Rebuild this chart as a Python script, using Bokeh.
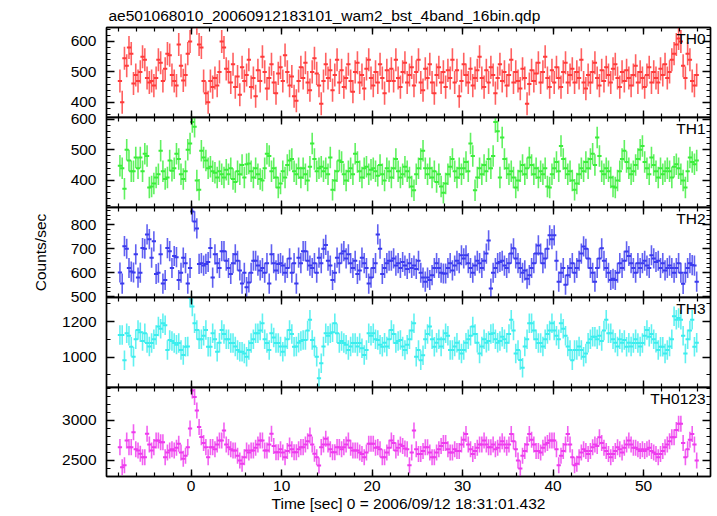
import numpy as np
from bokeh.plotting import figure
from bokeh.layouts import column
from bokeh.models import Range1d, LinearAxis, SingleIntervalTicker, ColumnDataSource, Label
from bokeh.embed import file_html
from bokeh.resources import INLINE

TITLE = "ae501068010_20060912183101_wam2_bst_4band_16bin.qdp"
X_LABEL = "Time [sec] 0 = 2006/09/12 18:31:01.432"
Y_LABEL = "Counts/sec"
bands = ["TH0", "TH1", "TH2", "TH3", "TH0123"]

# time bins: centre of first bin and bin width (sec)
first_bin = -7.875
bin_width = 0.25

th0 = [
    470, 400, 545, 520, 580, 560, 462, 490,
    470, 500, 550, 540, 480, 465, 470, 455,
    480, 540, 530, 470, 510, 560, 555, 490,
    470, 455, 590, 520, 472, 490, 560, 600,
    680, 690, 660, 590, 580, 470, 430, 400,
    470, 450, 480, 455, 500, 600, 580, 510,
    500, 465, 525, 450, 485, 425, 515, 470,
    490, 540, 450, 480, 420, 505, 470, 550,
    500, 445, 480, 525, 465, 430, 495, 515,
    470, 555, 500, 455, 485, 420, 405, 470,
    515, 480, 530, 465, 440, 500, 545, 495,
    455, 395, 470, 525, 480, 505, 440, 490,
    540, 465, 505, 450, 480, 525, 470, 435,
    500, 530, 465, 490, 445, 510, 540, 480,
    455, 500, 465, 525, 480, 430, 505, 470,
    510, 470, 540, 480, 450, 500, 530, 465,
    490, 515, 455, 500, 540, 465, 440, 510,
    480, 525, 465, 430, 490, 515, 465, 500,
    450, 505, 480, 540, 465, 505, 420, 470,
    525, 490, 465, 510, 455, 480, 505, 550,
    480, 450, 505, 465, 515, 490, 430, 480,
    525, 470, 500, 455, 490, 540, 465, 500,
    470, 445, 510, 480, 395, 460, 505, 470,
    495, 530, 465, 500, 550, 480, 450, 505,
    465, 515, 480, 450, 500, 530, 465, 490,
    510, 465, 500, 480, 540, 465, 445, 490,
    465, 500, 530, 480, 455, 505, 470, 515,
    490, 465, 510, 525, 480, 450, 500, 470,
    505, 480, 455, 490, 520, 465, 500, 480,
    450, 490, 515, 465, 500, 480, 465, 510,
    490, 525, 480, 500, 540, 560, 590, 610,
    600, 520, 480, 560, 540, 470, 455, 490,
]

th1 = [
    448, 440, 373, 500, 465, 430, 430, 475,
    440, 475, 430, 487, 480, 377, 380, 390,
    410, 420, 497, 430, 405, 410, 465, 432,
    440, 487, 470, 420, 405, 430, 500, 520,
    590, 575, 400, 370, 497, 475, 465, 440,
    445, 430, 425, 410, 430, 420, 410, 435,
    420, 440, 405, 395, 430, 420, 450, 410,
    453, 455, 430, 410, 440, 420, 405, 400,
    440, 487, 480, 430, 440, 410, 377, 390,
    430, 410, 450, 465, 470, 430, 420, 440,
    410, 440, 420, 400, 445, 520, 470, 430,
    440, 445, 430, 440, 420, 475, 370, 400,
    430, 465, 460, 420, 400, 430, 440, 420,
    487, 460, 430, 410, 440, 445, 420, 435,
    440, 430, 415, 450, 420, 400, 440, 430,
    410, 440, 470, 430, 410, 420, 445, 430,
    410, 380, 368, 420, 440, 470, 497, 440,
    420, 440, 410, 430, 395, 420, 380, 360,
    390, 420, 445, 470, 430, 410, 440, 420,
    440, 460, 430, 520, 480, 368, 410, 440,
    420, 450, 430, 470, 440, 480, 590, 560,
    410, 540, 470, 440, 420, 430, 410, 377,
    400, 430, 450, 420, 440, 475, 450, 420,
    440, 410, 430, 420, 440, 380, 377, 420,
    440, 460, 430, 512, 470, 440, 420, 430,
    400, 370, 390, 420, 440, 430, 460, 440,
    470, 487, 450, 540, 480, 430, 420, 440,
    430, 410, 380, 377, 400, 430, 470, 497,
    460, 440, 420, 430, 450, 470, 500, 512,
    460, 440, 420, 475, 450, 430, 410, 440,
    420, 430, 440, 430, 410, 445, 453, 440,
    420, 400, 377, 430, 475, 460, 453, 465,
]

th2 = [
    601, 555, 711, 700, 620, 605, 601, 677,
    580, 600, 703, 700, 760, 740, 663, 731,
    595, 600, 677, 555, 570, 703, 690, 620,
    670, 665, 570, 600, 663, 640, 555, 620,
    855, 814, 785, 637, 640, 630, 637, 645,
    703, 580, 677, 640, 620, 690, 690, 650,
    620, 595, 640, 677, 650, 610, 555, 600,
    540, 560, 600, 650, 650, 630, 610, 620,
    600, 640, 555, 677, 640, 610, 637, 640,
    630, 600, 620, 660, 600, 640, 555, 663,
    640, 690, 690, 650, 630, 620, 640, 600,
    663, 640, 700, 716, 650, 630, 570, 600,
    663, 640, 680, 690, 660, 677, 640, 620,
    650, 595, 610, 663, 640, 620, 555, 580,
    620, 640, 760, 700, 595, 620, 640, 650,
    650, 660, 630, 640, 620, 645, 630, 616,
    640, 620, 630, 616, 650, 600, 580, 563,
    580, 570, 590, 620, 640, 620, 600, 597,
    597, 620, 640, 610, 630, 650, 640, 673,
    660, 673, 640, 620, 600, 630, 650, 640,
    620, 650, 680, 735, 534, 600, 620, 640,
    645, 650, 630, 620, 640, 680, 702, 660,
    640, 620, 600, 610, 575, 590, 620, 640,
    680, 714, 680, 640, 660, 700, 756, 740,
    756, 650, 563, 600, 620, 550, 590, 620,
    640, 600, 620, 650, 680, 710, 700, 660,
    620, 600, 563, 620, 660, 702, 650, 620,
    600, 570, 575, 570, 600, 640, 620, 650,
    689, 670, 640, 620, 600, 640, 620, 640,
    650, 630, 620, 673, 660, 645, 650, 620,
    640, 610, 620, 630, 620, 600, 620, 640,
    600, 554, 600, 620, 640, 632, 630, 563,
]

th3 = [
    1124, 1124, 982, 1134, 1120, 1058, 1001, 1100,
    1153, 1140, 1090, 1134, 1079, 1060, 1079, 1100,
    1124, 1172, 1160, 1190, 1180, 1040, 1096, 1090,
    1079, 1070, 1079, 1040, 1011, 1058, 1060, 1335,
    1285, 1190, 1153, 1100, 1100, 1120, 1153, 1058,
    1058, 1134, 1100, 1030, 1080, 1153, 1130, 1100,
    1100, 1079, 1079, 1060, 1040, 1030, 1030, 1020,
    1001, 1040, 1079, 1100, 1134, 1134, 1150, 1190,
    1100, 1079, 1040, 1134, 1110, 1079, 1079, 1060,
    1030, 1060, 1100, 1153, 1130, 1058, 1060, 1080,
    1090, 1096, 1096, 1150, 1210, 1096, 1060, 1001,
    880, 965, 1060, 1134, 1120, 1134, 1140, 1190,
    1134, 1079, 1090, 1079, 1070, 1040, 1060, 1079,
    1079, 1060, 1079, 1050, 1011, 1040, 1134, 1120,
    1134, 1100, 1096, 1070, 1058, 1080, 1060, 1100,
    1153, 1130, 1079, 1090, 1096, 1060, 1040, 1070,
    1100, 1150, 1190, 1001, 1040, 982, 1010, 1100,
    1130, 1172, 1100, 1058, 1080, 1100, 1060, 1100,
    1134, 1120, 1040, 1040, 1060, 1080, 1040, 1020,
    1040, 1080, 1100, 1120, 1172, 1130, 1080, 1020,
    1060, 1100, 1080, 1090, 1130, 1134, 1100, 1080,
    1090, 1115, 1100, 1080, 1130, 1210, 1150, 1020,
    1040, 983, 940, 1060, 1100, 1190, 1190, 1150,
    1100, 1079, 1079, 1060, 1100, 1130, 1150, 1190,
    1150, 1120, 1100, 1190, 1160, 1120, 1060, 1040,
    982, 1040, 1040, 1060, 1040, 1001, 1020, 1080,
    1100, 1115, 1115, 1100, 1120, 1090, 1150, 1210,
    1134, 1134, 1100, 1080, 1060, 1100, 1080, 1096,
    1058, 1080, 1060, 1079, 1100, 1079, 1060, 1079,
    1120, 1153, 1115, 1130, 1100, 1080, 1040, 1058,
    1058, 1020, 1040, 1060, 1100, 1230, 1210, 1220,
    1210, 1120, 1020, 1100, 1150, 1210, 1058, 1080,
]

th0123 = [
    2667, 2417, 2440, 2750, 2667, 2667, 2854, 2640,
    2625, 2583, 2542, 2542, 2833, 2700, 2625, 2667,
    2750, 2750, 2729, 2729, 2542, 2600, 2625, 2640,
    2625, 2660, 2708, 2600, 2521, 2560, 2667, 2900,
    3375, 3292, 3125, 2917, 2792, 2720, 2667, 2542,
    2667, 2667, 2640, 2700, 2750, 2750, 2875, 2700,
    2667, 2640, 2625, 2625, 2560, 2500, 2458, 2540,
    2625, 2600, 2625, 2625, 2660, 2700, 2750, 2750,
    2625, 2625, 2700, 2833, 2680, 2604, 2604, 2640,
    2600, 2542, 2620, 2688, 2640, 2604, 2604, 2640,
    2667, 2667, 2700, 2740, 2813, 2700, 2583, 2540,
    2438, 2667, 2700, 2771, 2700, 2640, 2604, 2604,
    2667, 2667, 2640, 2667, 2700, 2750, 2660, 2625,
    2625, 2625, 2600, 2580, 2542, 2600, 2708, 2708,
    2708, 2660, 2667, 2640, 2542, 2542, 2600, 2660,
    2750, 2720, 2625, 2660, 2700, 2680, 2650, 2640,
    2440, 2600, 2875, 2640, 2580, 2580, 2620, 2665,
    2665, 2600, 2540, 2540, 2600, 2640, 2680, 2720,
    2720, 2640, 2600, 2600, 2640, 2620, 2620, 2700,
    2760, 2830, 2700, 2640, 2580, 2620, 2660, 2700,
    2700, 2750, 2700, 2665, 2665, 2700, 2640, 2660,
    2700, 2740, 2700, 2660, 2700, 2830, 2740, 2640,
    2500, 2400, 2560, 2620, 2700, 2830, 2760, 2700,
    2620, 2620, 2600, 2660, 2700, 2720, 2750, 2750,
    2750, 2640, 2440, 2560, 2620, 2700, 2830, 2700,
    2540, 2440, 2460, 2540, 2600, 2640, 2620, 2580,
    2620, 2665, 2700, 2680, 2790, 2720, 2660, 2620,
    2580, 2540, 2580, 2620, 2665, 2640, 2600, 2660,
    2700, 2750, 2700, 2660, 2660, 2640, 2620, 2640,
    2620, 2640, 2660, 2620, 2600, 2580, 2540, 2580,
    2620, 2665, 2700, 2740, 2790, 2790, 2880, 2960,
    2960, 2720, 2540, 2640, 2760, 2830, 2700, 2500,
]

series = [th0, th1, th2, th3, th0123]
errors = [38, 35, 42, 55, 100]          # 1-sigma error per bin (counts/sec)
y_ranges = [(350, 646), (312, 605), (497, 872), (828, 1336), (2300, 3412)]
y_steps = [100, 100, 100, 200, 500]
y_minor = [5, 5, 5, 2, 5]
x_limits = (-9.36, 57.4)

colors = ["#ff3a3a", "#3aee3a", "#3a3aee", "#3aeeee", "#ee3aee"]
frame_heights = [90, 90, 90, 90, 89]
FONT = "Liberation Sans"
FS = "15.5px"
OVER = 10   # transparent overlap border between stacked panels

x_range = Range1d(*x_limits)


def style_axis(ax, show_labels, major_in, minor_in):
    ax.major_tick_in = major_in
    ax.major_tick_out = 0
    ax.minor_tick_in = minor_in
    ax.minor_tick_out = 0
    ax.axis_line_color = "black"
    ax.axis_line_width = 1.4
    ax.major_tick_line_color = "black"
    ax.major_tick_line_width = 1.4
    ax.minor_tick_line_color = "black"
    ax.minor_tick_line_width = 1.2
    ax.major_label_text_font = FONT
    ax.axis_label_text_font = FONT
    ax.axis_label_text_font_style = "normal"
    ax.axis_label_text_color = "black"
    ax.axis_label_text_font_size = FS
    if show_labels:
        ax.major_label_text_font_size = FS
        ax.major_label_text_color = "black"
    else:
        ax.major_label_text_font_size = "1px"
        ax.major_label_text_color = None
        ax.major_label_standoff = 0


figs = []
n = len(bands)
for i, (name, vals, err, yr, step, nminor, col) in enumerate(
        zip(bands, series, errors, y_ranges, y_steps, y_minor, colors)):
    first = i == 0
    last = i == n - 1
    p = figure(x_range=x_range, y_range=Range1d(*yr),
               frame_width=604, frame_height=frame_heights[i],
               output_backend="svg", toolbar_location=None,
               x_axis_location=None, y_axis_location=None,
               min_border_left=106, min_border_right=2,
               min_border_top=27 if first else OVER,
               min_border_bottom=0 if last else OVER,
               title=TITLE if first else None)
    if not first:
        p.margin = (-2 * OVER, 0, 0, 0)
    p.xgrid.visible = False
    p.ygrid.visible = False
    p.outline_line_color = "black"
    p.outline_line_width = 1.4
    p.background_fill_color = "white"
    p.border_fill_color = None
    if first:
        p.title.text_font = FONT
        p.title.text_font_size = FS
        p.title.text_font_style = "normal"
        p.title.text_color = "black"
        p.title.align = "left"
        p.title.offset = 2
        p.title.standoff = 8

    # axes: ticks pointing inward on all four sides
    left = LinearAxis(ticker=SingleIntervalTicker(interval=step, num_minor_ticks=nminor))
    style_axis(left, True, 8, 4)
    left.major_label_standoff = 10
    if i == 2:
        left.axis_label = Y_LABEL
        left.axis_label_standoff = 19
    p.add_layout(left, "left")

    right = LinearAxis(ticker=SingleIntervalTicker(interval=step, num_minor_ticks=nminor))
    style_axis(right, False, 8, 4)
    p.add_layout(right, "right")

    below = LinearAxis(ticker=SingleIntervalTicker(interval=10, num_minor_ticks=5))
    style_axis(below, last, 7, 4)
    if last:
        below.major_label_standoff = 4
        below.axis_label = X_LABEL
        below.axis_label_standoff = 1
    p.add_layout(below, "below")

    above = LinearAxis(ticker=SingleIntervalTicker(interval=10, num_minor_ticks=5))
    style_axis(above, False, 7, 4)
    p.add_layout(above, "above")

    t = first_bin + bin_width * np.arange(len(vals))
    v = np.array(vals, dtype=float)
    src = ColumnDataSource(dict(t=t, v=v, lo=v - err, hi=v + err,
                                l=t - bin_width / 2, r=t + bin_width / 2))
    p.segment(x0="t", y0="lo", x1="t", y1="hi", source=src,
              line_color=col, line_width=1.6, line_alpha=0.8)
    p.segment(x0="l", y0="v", x1="r", y1="v", source=src,
              line_color=col, line_width=2.0, line_cap="square")

    p.add_layout(Label(x=x_limits[1], y=yr[1], x_offset=-5, y_offset=-2,
                       text=name, text_align="right", text_baseline="top",
                       text_font=FONT, text_font_size=FS, text_color="black"))
    figs.append(p)

layout = column(*figs, spacing=0)
open("out.html", "w").write(file_html(layout, INLINE))
